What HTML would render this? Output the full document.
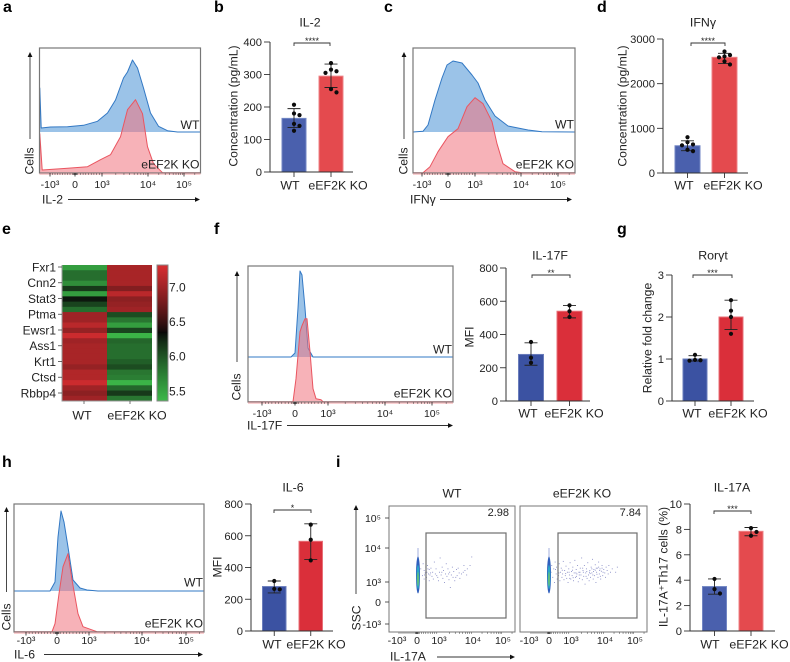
<!DOCTYPE html>
<html lang="en">
<head>
<meta charset="utf-8">
<title>eEF2K KO cytokine figure</title>
<style>
html,body{margin:0;padding:0;background:#fff;}
svg{display:block;font-family:"Liberation Sans",sans-serif;filter:blur(0.3px);}
</style>
</head>
<body>
<svg id="fig" width="790" height="662" viewBox="0 0 790 662">
  <g id="panel-a"></g>
  <g id="panel-b"></g>
  <g id="panel-c"></g>
  <g id="panel-d"></g>
  <g id="panel-e"></g>
  <g id="panel-f"></g>
  <g id="panel-f2"></g>
  <g id="panel-g"></g>
  <g id="panel-h"></g>
  <g id="panel-h2"></g>
  <g id="panel-i"></g>
  <g id="panel-i2"></g>
  <g id="letters">
    <text x="3" y="12" font-size="16" font-weight="bold">a</text>
    <text x="214" y="12" font-size="16" font-weight="bold">b</text>
    <text x="384" y="12" font-size="16" font-weight="bold">c</text>
    <text x="597" y="12" font-size="16" font-weight="bold">d</text>
    <text x="2" y="234" font-size="16" font-weight="bold">e</text>
    <text x="214" y="234" font-size="16" font-weight="bold">f</text>
    <text x="617" y="234" font-size="16" font-weight="bold">g</text>
    <text x="2" y="467" font-size="16" font-weight="bold">h</text>
    <text x="336" y="467" font-size="16" font-weight="bold">i</text>
  </g>
</svg>
<script>
/* ---------- shared categories and ticks ---------- */
const barCategories = ['WT', 'eEF2K KO'];
const flowTickValues = [-1000, 0, 1000, 10000, 100000];
const flowTickLabels = ['-10³', '0', '10³', '10⁴', '10⁵'];
const flowMinorValues = [-900,-800,-700,-600,-500,-400,-300,-200,-100,-60,-40,-20,-10,10,20,40,60,100,200,300,400,500,600,700,800,900,2000,3000,4000,5000,6000,7000,8000,9000,20000,30000,40000,50000,60000,70000,80000,90000,200000];

/* ---------- panel a: IL-2 histogram (channel, count) ---------- */
const aWtChannel = [0,0.3,1.7,11,28,44,58,68,76,84,88,93,98,104,111,119,128,138,161];
const aWtCount   = [0,44,4,5,5.3,6.7,10.7,19,32,54,60,72,64,44,19,5.7,1.3,0,0];
const aKoChannel = [0,0.3,2.7,28,48,61,71,81,88,96,103,108,114,123,161];
const aKoCount   = [0,39,2.7,4.5,6,13,18,36,63,73,59,26,9,0,0];

/* ---------- panel b: IL-2 bars ---------- */
const il2Ticks = [0,100,200,300,400];
const il2Means = [165,295];
const il2Low   = [137,260];
const il2High  = [195,332];
const il2WtPoints = [207,180,175,148,142,127];
const il2KoPoints = [335,315,310,305,255,245];

/* ---------- panel c: IFNg histogram ---------- */
const cWtChannel = [0,10,15,22,29,34,40,49,59,65,72,82,95,115,129,162];
const cWtCount   = [0,0.7,7,32,54,67,71,69,57,49,32,16,6,2,0.3,0];
const cKoChannel = [0,10,17,25,35,45,54,62,70,79,84,90,102,109,162];
const cKoCount   = [0,0,6,21,36,44,66,75,69,51,29,9,1,0,0];

/* ---------- panel d: IFNg bars ---------- */
const ifngTicks = [0,1000,2000,3000];
const ifngMeans = [610,2590];
const ifngLow   = [500,2450];
const ifngHigh  = [720,2680];
const ifngWtPoints = [800,690,640,620,520,490];
const ifngKoPoints = [2720,2640,2610,2590,2500,2430];

/* ---------- panel e: heatmap ---------- */
const heatGenes = ['Fxr1','Cnn2','Stat3','Ptma','Ewsr1','Ass1','Krt1','Ctsd','Rbbp4'];
const heatWt = [5.55,5.85,5.85,5.65,6.15,5.55,6.3,6.1,5.85,7.0,7.0,7.15,6.95,7.25,7.0,7.05,7.05,7.05,7.05,6.95,7.1,7.1,7.25,7.0,6.9,7.0];
const heatKo = [7.05,7.05,7.05,7.05,6.85,7.15,6.9,6.95,7.0,6.05,5.8,5.55,6.1,5.4,5.9,5.85,5.85,5.85,5.95,6.05,5.8,5.75,5.4,5.9,6.15,5.8];
const heatScaleTicks = [7.0,6.5,6.0,5.5];

/* ---------- panel f: IL-17F ---------- */
const fWtChannel = [0,43,47,50,52,54,57,60,65,205];
const fWtCount   = [0,0,4,49,86,82,49,9,0,0];
const fKoChannel = [0,45,48,52,54,57,59,62,65,68,73,75,205];
const fKoCount   = [0,0,23,70,76,83,83,50,13,3,2,0,0];
const il17fTicks = [0,200,400,600,800];
const il17fMeans = [280,540];
const il17fLow   = [215,500];
const il17fHigh  = [350,575];
const il17fWtPoints = [355,260,230];
const il17fKoPoints = [575,540,505];

/* ---------- panel g: Rorgt ---------- */
const rorTicks = [0,1,2,3];
const rorMeans = [1.0,2.0];
const rorLow   = [0.95,1.7];
const rorHigh  = [1.08,2.4];
const rorWtPoints = [1.1,0.98,0.97,0.96];
const rorKoPoints = [2.4,2.15,2.0,1.6];

/* ---------- panel h: IL-6 ---------- */
const hWtChannel = [0,36,41,44,47,50,54,59,66,73,84,190];
const hWtCount   = [0,0,9,54,80,69,44,11,3,1,0,0];
const hKoChannel = [0,38,41,45,49,54,58,64,69,83,190];
const hKoCount   = [0,0,8,38,65,78,52,18,5,0,0];
const il6Ticks = [0,200,400,600,800];
const il6Means = [280,565];
const il6Low   = [240,450];
const il6High  = [315,675];
const il6WtPoints = [315,265,262];
const il6KoPoints = [670,575,445];

/* ---------- panel i: IL-17A dot plots (log10 x, log10 y) ---------- */
const ssTickLabels = ['10⁵','10⁴','10³','0','-10³'];
const wtPercent = '2.98';
const koPercent = '7.84';
const wtDots = [[2.45,3.4],[2.5,3.2],[2.52,3.55],[2.55,3.1],[2.55,3.35],[2.58,3.28],[2.6,3.45],[2.62,3.15],[2.63,3.3],[2.65,3.5],[2.68,3.25],[2.7,3.05],[2.7,3.38],[2.72,3.22],[2.75,3.42],[2.78,3.18],[2.8,3.3],[2.82,3.1],[2.85,3.6],[2.88,3.25],[2.9,3.4],[2.95,3.15],[2.97,3.05],[3.0,3.3],[3.02,3.72],[3.05,3.22],[3.08,3.45],[3.1,3.12],[3.12,3.35],[3.15,3.0],[3.18,3.25],[3.2,3.55],[3.22,3.18],[3.25,3.4],[3.28,3.08],[3.3,3.3],[3.32,2.85],[3.35,3.22],[3.38,3.45],[3.4,3.15],[3.42,3.32],[3.45,3.05],[3.5,3.38],[3.52,3.2],[3.55,3.42],[3.58,3.28],[3.6,3.12],[3.65,3.25],[3.7,3.3],[3.72,3.5],[3.75,3.35],[3.8,3.22],[3.82,3.4],[3.9,3.5],[3.95,3.75],[2.56,3.22],[2.66,3.4],[2.74,3.28],[2.92,3.2],[3.07,3.3],[3.27,3.25],[3.48,3.15]];
const koDots = [[2.4,3.3],[2.42,3.5],[2.45,3.15],[2.48,3.4],[2.5,3.0],[2.52,3.6],[2.55,3.25],[2.56,3.45],[2.58,3.1],[2.6,3.35],[2.62,3.2],[2.64,3.55],[2.66,3.05],[2.68,3.3],[2.7,3.42],[2.72,3.15],[2.74,3.25],[2.76,3.62],[2.78,3.08],[2.8,3.35],[2.82,3.2],[2.84,3.48],[2.86,3.12],[2.88,3.3],[2.9,3.0],[2.92,3.4],[2.94,3.22],[2.96,3.58],[2.98,3.1],[3.0,3.32],[3.02,3.2],[3.04,3.45],[3.06,3.05],[3.08,3.28],[3.1,3.65],[3.12,3.15],[3.14,3.38],[3.16,3.25],[3.18,3.5],[3.2,3.02],[3.22,3.3],[3.24,3.12],[3.26,3.42],[3.28,3.22],[3.3,3.72],[3.32,3.08],[3.34,3.35],[3.36,3.18],[3.38,3.5],[3.4,2.95],[3.42,3.28],[3.44,3.4],[3.46,3.12],[3.48,3.58],[3.5,3.22],[3.52,3.05],[3.54,3.35],[3.56,3.15],[3.58,3.45],[3.6,3.28],[3.62,3.68],[3.64,3.1],[3.66,3.38],[3.68,3.2],[3.7,3.52],[3.72,3.0],[3.74,3.3],[3.76,3.42],[3.78,3.15],[3.8,3.6],[3.82,3.25],[3.84,3.4],[3.86,3.1],[3.88,3.33],[3.9,3.5],[3.92,3.2],[3.95,3.38],[3.98,3.28],[4.0,3.15],[4.02,3.45],[4.05,3.35],[4.08,3.25],[4.1,3.5],[4.15,3.3],[4.2,3.4],[4.3,3.3],[4.35,3.45],[3.03,3.36],[3.13,3.28],[3.23,3.22],[3.33,3.42],[3.43,3.18],[3.53,3.3],[3.63,3.22],[3.73,3.42],[3.83,3.35],[3.93,3.3],[2.93,3.3],[2.83,3.26],[2.73,3.36],[2.63,3.28],[2.53,3.38],[3.35,3.3],[3.45,3.32],[3.55,3.26],[3.65,3.32],[3.75,3.24],[3.85,3.18],[3.25,3.3],[3.15,3.18],[3.05,3.14],[2.95,3.12],[3.6,3.4],[3.7,3.36],[3.8,3.45],[3.9,3.42]];
const il17aTicks = [0,2,4,6,8,10];
const il17aMeans = [3.5,7.85];
const il17aLow   = [2.9,7.5];
const il17aHigh  = [4.1,8.15];
const il17aWtPoints = [4.1,3.3,2.95];
const il17aKoPoints = [8.1,7.8,7.5];

/* ---------- helpers ---------- */
const NS = 'http://www.w3.org/2000/svg';
const INK = '#222';
function mk(tag, attrs, parent) {
  const n = document.createElementNS(NS, tag);
  for (const k in attrs) n.setAttribute(k, attrs[k]);
  parent.appendChild(n);
  return n;
}
function txt(parent, x, y, str, size, anchor, rot) {
  const attrs = {x: x, y: y, dy: '.36em', 'font-size': size, 'text-anchor': anchor || 'middle', fill: INK};
  if (rot) attrs.transform = 'rotate(-90 ' + x + ' ' + y + ')';
  const n = mk('text', attrs, parent);
  n.textContent = str;
  return n;
}
function linear(d0, d1, r0, r1) {
  return function (v) { return r0 + (v - d0) * (r1 - r0) / (d1 - d0); };
}
/* flow-cytometry style axis: linear around zero, log above 10^3 */
function flowScale(px) {
  return function (v) {
    if (v <= -1000) return px[0];
    if (v < 0) return px[1] + (v / 1000) * (px[1] - px[0]);
    if (v < 1000) return px[1] + (v / 1000) * (px[2] - px[1]);
    if (v < 10000) return px[2] + (Math.log10(v) - 3) * (px[3] - px[2]);
    return px[3] + (Math.log10(v) - 4) * (px[4] - px[3]);
  };
}
function arrow(parent, x1, y1, x2, y2, name) {
  const g = mk('g', {}, parent);
  
  
  const dx = Math.sign(x2 - x1), dy = Math.sign(y2 - y1);
  mk('line', {x1: x1, y1: y1, x2: x2 - dx * 4, y2: y2 - dy * 4, stroke: '#333', 'stroke-width': 0.9}, g);
  const pts = dx
    ? [[x2, y2], [x2 - dx * 5, y2 - 2.4], [x2 - dx * 5, y2 + 2.4]]
    : [[x2, y2], [x2 - 2.4, y2 - dy * 5], [x2 + 2.4, y2 - dy * 5]];
  mk('polygon', {points: pts.map(function (p) { return p.join(','); }).join(' '), fill: '#111'}, g);
}
function histArea(parent, chan, count, x, y, fill, line, name) {
  const top = chan.map(function (c, i) { return x(c) + ',' + y(count[i]); });
  const area = mk('polygon', {points: x(chan[0]) + ',' + y(0) + ' ' + top.join(' ') + ' ' + x(chan[chan.length - 1]) + ',' + y(0), fill: fill, stroke: 'none'}, parent);
  
  
  const stroke = mk('polyline', {points: top.join(' '), fill: 'none', stroke: line, 'stroke-width': 1, 'stroke-linejoin': 'round'}, parent);
  
  
}
function histPanel(id, c) {
  const p = document.getElementById(id);
  const W = c.x1 - c.x0;
  const cx = linear(0, W, c.x0, c.x1);
  const wtY = linear(0, 100, c.wtBase, c.wtBase - 100);
  const koY = linear(0, 100, c.koBase, c.koBase - 100);
  histArea(p, c.wtC, c.wtV, cx, wtY, 'rgb(155,195,232)', '#3278c4', 'wt-histogram');
  histArea(p, c.koC, c.koV, cx, koY, 'rgba(240,115,125,.55)', '#ea5560', 'ko-histogram');
  const box = mk('rect', {x: c.x0, y: c.y0, width: W, height: c.y1 - c.y0, fill: 'none', stroke: '#777', 'stroke-width': 1.2}, p);
  
  
  const band = mk('line', {x1: c.x0, x2: c.x1, y1: c.y1 + 1, y2: c.y1 + 1, stroke: '#f6b4b8', 'stroke-width': 1.2}, p);
  
  
  const tx = flowScale(c.axis);
  flowMinorValues.forEach(function (v) {
    const t = mk('line', {x1: tx(v), x2: tx(v), y1: c.y1, y2: c.y1 + 2, stroke: '#444', 'stroke-width': 0.5}, p);
    
    
  });
  flowTickValues.forEach(function (v, i) {
    const t = mk('line', {x1: tx(v), x2: tx(v), y1: c.y1, y2: c.y1 + 3.5, stroke: '#222', 'stroke-width': 0.8}, p);
    
    
    const l = txt(p, tx(v), c.tickY, flowTickLabels[i], 10.5);
    
    
  });
  const wt = txt(p, c.x1 - 1, c.wtLabelY, 'WT', 12.2, 'end');
  
  
  const ko = txt(p, c.x1 - 1, c.koLabelY, 'eEF2K KO', 12.2, 'end');
  
  
  const xt = txt(p, c.xTitleX, c.xTitleY, c.xTitle, 12.2, 'start');
  
  
  arrow(p, c.arrowX0, c.xTitleY + 0.5, c.arrowX1, c.xTitleY + 0.5, 'x-axis-arrow');
  arrow(p, c.vArrowX, c.vArrowBottom, c.vArrowX, c.vArrowTop, 'y-axis-arrow');
  const yt = txt(p, c.cellsX, c.cellsY, 'Cells', 12.2, 'middle', true);
  
  
}
/* separate touching dots sideways, as a swarm plot does */
function swarm(values, yScale) {
  const placed = [];
  return values.map(function (v) {
    const py = yScale(v);
    const tries = [0, 5.5, -5.5, 9, -9];
    for (let k = 0; k < tries.length; k++) {
      const clash = placed.some(function (q) {
        return Math.hypot(q[0] - tries[k], q[1] - py) < 4.6;
      });
      if (!clash) { placed.push([tries[k], py]); return placed[placed.length - 1]; }
    }
    placed.push([0, py]);
    return placed[placed.length - 1];
  });
}
function barPanel(id, c) {
  const p = document.getElementById(id);
  const y = linear(c.ticks[0], c.ticks[c.ticks.length - 1], c.yBottom, c.yTop);
  const groups = [c.wtPoints, c.koPoints];
  const fills = c.colors;
  const lights = c.lights;
  c.means.forEach(function (m, i) {
    const b = c.barX[i];
    const bar = mk('rect', {x: b, y: y(m), width: c.barW, height: c.yBottom - y(m), fill: fills[i], stroke: lights[i], 'stroke-width': 1}, p);
    
    
    const mid = b + c.barW / 2;
    const err = mk('path', {d: 'M' + mid + ' ' + y(c.low[i]) + 'V' + y(c.high[i]) + 'M' + (mid - 6.5) + ' ' + y(c.low[i]) + 'h13M' + (mid - 6.5) + ' ' + y(c.high[i]) + 'h13', stroke: '#222', 'stroke-width': 0.9, fill: 'none'}, p);
    
    
    swarm(groups[i], y).forEach(function (pt) {
      const d = mk('circle', {cx: mid + pt[0], cy: pt[1], r: 2.1, fill: '#0c0c0c'}, p);
      
      
    });
    const tk = mk('line', {x1: mid, x2: mid, y1: c.yBottom, y2: c.yBottom + 5, stroke: '#333', 'stroke-width': 0.9}, p);
    
    
    const lab = txt(p, c.labelX[i], c.labelY, barCategories[i], 12.4);
    
    
  });
  const axis = mk('path', {d: 'M' + c.axisX + ' ' + c.yTop + 'V' + c.yBottom + 'H' + c.axisEnd, stroke: '#333', 'stroke-width': 1, fill: 'none'}, p);
  
  
  c.ticks.forEach(function (v) {
    const t = mk('line', {x1: c.axisX - 6, x2: c.axisX, y1: y(v), y2: y(v), stroke: '#333', 'stroke-width': 0.9}, p);
    
    
    const l = txt(p, c.axisX - 8, y(v), String(v), 11.2, 'end');
    
    
  });
  const title = txt(p, c.titleX, c.titleY, c.title, 12.4);
  
  
  const yt = txt(p, c.yTitleX, c.yTitleY, c.yTitle, 12.2, 'middle', true);
  
  
  const br = mk('path', {d: 'M' + c.brX0 + ' ' + (c.brY + 3) + 'V' + c.brY + 'H' + c.brX1 + 'V' + (c.brY + 3), stroke: '#333', 'stroke-width': 0.9, fill: 'none'}, p);
  
  
  const st = txt(p, (c.brX0 + c.brX1) / 2, c.brY - 2, c.stars, 9);
  
  
}

/* ---------- colour map for panel e ---------- */
function heatColor(v) {
  const mid = 6.35, lo = 5.35, hi = 7.3;
  const green = [61,186,74], black = [8,8,8], red = [212,45,48];
  let t, a, b;
  if (v < mid) { t = Math.max(0, (mid - v) / (mid - lo)); a = black; b = green; }
  else { t = Math.min(1, (v - mid) / (hi - mid)); a = black; b = red; }
  const e = Math.pow(t, 0.8);
  return 'rgb(' + a.map(function (k, i) { return Math.round(k + (b[i] - k) * e); }).join(',') + ')';
}

/* ---------- draw panels ---------- */
histPanel('panel-a', {x0: 39.5, x1: 200.5, y0: 48, y1: 173, wtBase: 132, koBase: 172.7,
  wtC: aWtChannel, wtV: aWtCount, koC: aKoChannel, koV: aKoCount,
  axis: [50,75,102,148,184], tickY: 184, wtLabelY: 124.5, koLabelY: 164,
  xTitle: 'IL-2', xTitleX: 42, xTitleY: 199, arrowX0: 68, arrowX1: 200,
  vArrowX: 30, vArrowBottom: 139, vArrowTop: 52, cellsX: 29, cellsY: 161});
barPanel('panel-b', {ticks: il2Ticks, yTop: 42, yBottom: 172, axisX: 270, axisEnd: 353,
  means: il2Means, low: il2Low, high: il2High, wtPoints: il2WtPoints, koPoints: il2KoPoints,
  barX: [282,319], barW: 24, colors: ['#4a60ad','#e44a4e'], lights: ['#7286c4','#ee8387'],
  labelX: [290,338], labelY: 185, title: 'IL-2', titleX: 310, titleY: 22,
  yTitle: 'Concentration (pg/mL)', yTitleX: 233, yTitleY: 106,
  brX0: 294, brX1: 330, brY: 43, stars: '****'});
histPanel('panel-c', {x0: 413, x1: 575, y0: 48, y1: 173, wtBase: 132, koBase: 172.7,
  wtC: cWtChannel, wtV: cWtCount, koC: cKoChannel, koV: cKoCount,
  axis: [422,448,475,521,558], tickY: 184, wtLabelY: 124, koLabelY: 164,
  xTitle: 'IFNγ', xTitleX: 410, xTitleY: 199, arrowX0: 440, arrowX1: 572,
  vArrowX: 404, vArrowBottom: 139, vArrowTop: 52, cellsX: 403, cellsY: 161});
barPanel('panel-d', {ticks: ifngTicks, yTop: 39, yBottom: 173, axisX: 663, axisEnd: 748,
  means: ifngMeans, low: ifngLow, high: ifngHigh, wtPoints: ifngWtPoints, koPoints: ifngKoPoints,
  barX: [675,712], barW: 25, colors: ['#4a60ad','#e44a4e'], lights: ['#7286c4','#ee8387'],
  labelX: [684,733], labelY: 185, title: 'IFNγ', titleX: 703, titleY: 22,
  yTitle: 'Concentration (pg/mL)', yTitleX: 622, yTitleY: 106,
  brX0: 691, brX1: 725, brY: 43, stars: '****'});

(function () {
  const p = document.getElementById('panel-e');
  const left = 62, mid = 107, right = 152, top = 265, bottom = 401;
  const rowH = (bottom - top) / heatWt.length;
  heatWt.forEach(function (v, i) {
    const a = mk('rect', {x: left, y: top + i * rowH, width: mid - left, height: rowH + 0.4, fill: heatColor(v)}, p);
    
    
    const b = mk('rect', {x: mid, y: top + i * rowH, width: right - mid, height: rowH + 0.4, fill: heatColor(heatKo[i])}, p);
    
    
  });
  const frame = mk('path', {d: 'M' + left + ' ' + top + 'V' + bottom + 'H' + right, fill: 'none', stroke: '#999', 'stroke-width': 1}, p);
  
  
  heatGenes.forEach(function (g, i) {
    const gy = 267 + i * 15.75;
    const t = mk('line', {x1: 58, x2: 62, y1: gy, y2: gy, stroke: '#444', 'stroke-width': 0.8}, p);
    
    
    const l = txt(p, 56, gy, g, 12, 'end');
    
    
  });
  barCategories.forEach(function (c, i) {
    const cx = [84,130][i];
    const t = mk('line', {x1: cx, x2: cx, y1: bottom, y2: bottom + 3, stroke: '#555', 'stroke-width': 0.8}, p);
    
    
    const l = txt(p, [82,137][i], 415, c, 12.4);
    
    
  });
  const legendX = 157, legendW = 11;
  const legendY = linear(7.0, 5.5, 287, 391);
  for (let py = top; py < bottom; py++) {
    const seg = mk('rect', {x: legendX, y: py, width: legendW, height: 1.2, fill: heatColor(7.0 + (py - 287) * (5.5 - 7.0) / (391 - 287))}, p);
    
    
  }
  const lb = mk('rect', {x: legendX, y: top, width: legendW, height: bottom - top, fill: 'none', stroke: '#888', 'stroke-width': 1}, p);
  
  
  heatScaleTicks.forEach(function (v) {
    const l = txt(p, 169, legendY(v), v.toFixed(1), 12, 'start');
    
    
  });
})();

histPanel('panel-f', {x0: 248, x1: 453, y0: 266, y1: 402, wtBase: 357, koBase: 401.7,
  wtC: fWtChannel, wtV: fWtCount, koC: fKoChannel, koV: fKoCount,
  axis: [262,295,328,385,432], tickY: 413, wtLabelY: 349, koLabelY: 393,
  xTitle: 'IL-17F', xTitleX: 247, xTitleY: 425, arrowX0: 287, arrowX1: 453,
  vArrowX: 237, vArrowBottom: 362, vArrowTop: 271, cellsX: 236, cellsY: 387});
barPanel('panel-f2', {ticks: il17fTicks, yTop: 268, yBottom: 401, axisX: 506, axisEnd: 590,
  means: il17fMeans, low: il17fLow, high: il17fHigh, wtPoints: il17fWtPoints, koPoints: il17fKoPoints,
  barX: [518.5,557], barW: 25, colors: ['#3b52a2','#da2f3a'], lights: ['#6a7dbc','#e87078'],
  labelX: [528,574], labelY: 413, title: 'IL-17F', titleX: 550, titleY: 255,
  yTitle: 'MFI', yTitleX: 469, yTitleY: 337,
  brX0: 532, brX1: 570, brY: 275, stars: '**'});
barPanel('panel-g', {ticks: rorTicks, yTop: 275, yBottom: 401, axisX: 672, axisEnd: 754,
  means: rorMeans, low: rorLow, high: rorHigh, wtPoints: rorWtPoints, koPoints: rorKoPoints,
  barX: [683,719], barW: 24, colors: ['#3b52a2','#da2f3a'], lights: ['#6a7dbc','#e87078'],
  labelX: [692,738], labelY: 413, title: 'Rorγt', titleX: 713, titleY: 255,
  yTitle: 'Relative fold change', yTitleX: 647, yTitleY: 338,
  brX0: 693, brX1: 732, brY: 275, stars: '***'});
histPanel('panel-h', {x0: 14, x1: 204, y0: 504, y1: 632, wtBase: 591, koBase: 631.7,
  wtC: hWtChannel, wtV: hWtCount, koC: hKoChannel, koV: hKoCount,
  axis: [26,57,89,142,186], tickY: 640, wtLabelY: 582, koLabelY: 623,
  xTitle: 'IL-6', xTitleX: 14, xTitleY: 654, arrowX0: 44, arrowX1: 203,
  vArrowX: 6.5, vArrowBottom: 592, vArrowTop: 507, cellsX: 6, cellsY: 617});
barPanel('panel-h2', {ticks: il6Ticks, yTop: 504, yBottom: 631, axisX: 251, axisEnd: 333,
  means: il6Means, low: il6Low, high: il6High, wtPoints: il6WtPoints, koPoints: il6KoPoints,
  barX: [262.5,299], barW: 23.5, colors: ['#3b52a2','#da2f3a'], lights: ['#6a7dbc','#e87078'],
  labelX: [272,316], labelY: 644, title: 'IL-6', titleX: 293, titleY: 487,
  yTitle: 'MFI', yTitleX: 217, yTitleY: 567,
  brX0: 274, brX1: 311, brY: 510, stars: '*'});

(function () {
  const p = document.getElementById('panel-i');
  const y = linear(3, 4, 582, 548);
  const plots = [
    {x0: 389, x1: 515, gate0: 426, gate1: 506, dots: wtDots, title: 'WT', tx: 452, pct: wtPercent, pctX: 509, blob: 418, shift: 0},
    {x0: 520, x1: 647, gate0: 558, gate1: 637, dots: koDots, title: 'eEF2K KO', tx: 582, pct: koPercent, pctX: 641, blob: 549, shift: 132}
  ];
  plots.forEach(function (c) {
    const x = linear(3, 4, 439 + c.shift, 473 + c.shift);
    const frame = mk('rect', {x: c.x0, y: 506, width: c.x1 - c.x0, height: 126, fill: 'none', stroke: '#777', 'stroke-width': 1}, p);
    
    
    c.dots.forEach(function (d) {
      const dot = mk('rect', {x: x(d[0]), y: y(d[1]), width: 0.9, height: 0.9, fill: '#5a5fb0', opacity: 0.75}, p);
      
      
    });
    const tail = mk('line', {x1: c.blob, x2: c.blob, y1: 548, y2: 560, stroke: '#8c9bd6', 'stroke-width': 0.8}, p);
    
    
    const outer = mk('ellipse', {cx: c.blob, cy: 575, rx: 2, ry: 18.5, fill: '#2f5fbd'}, p);
    
    
    const midE = mk('ellipse', {cx: c.blob, cy: 577, rx: 1.4, ry: 12, fill: '#29a8c8'}, p);
    
    
    const inner = mk('ellipse', {cx: c.blob, cy: 579, rx: 0.8, ry: 7, fill: '#6cc46a'}, p);
    
    
    const gate = mk('rect', {x: c.gate0, y: 533, width: c.gate1 - c.gate0, height: 85, fill: 'none', stroke: '#6e6e6e', 'stroke-width': 1.2}, p);
    
    
    const pct = txt(p, c.pctX, 512, c.pct, 11, 'end');
    
    
    const title = txt(p, c.tx, 493, c.title, 12.2);
    
    
    const tx = flowScale([397 + c.shift, 417 + c.shift, 439 + c.shift, 473 + c.shift, 503 + c.shift]);
    flowMinorValues.forEach(function (v) {
      const t = mk('line', {x1: tx(v), x2: tx(v), y1: 632, y2: 634, stroke: '#444', 'stroke-width': 0.5}, p);
      
      
    });
    flowTickValues.forEach(function (v, i) {
      const l = txt(p, tx(v), 640, flowTickLabels[i], 10.5);
      
      
    });
  });
  const ssAxis = [-1000, 0, 1000, 10000, 100000];
  const ssY = flowScale([624, 602, 582, 548, 518]);
  ssTickLabels.forEach(function (lab, i) {
    const v = ssAxis[ssAxis.length - 1 - i];
    const t = mk('line', {x1: 385, x2: 389, y1: ssY(v), y2: ssY(v), stroke: '#333', 'stroke-width': 0.8}, p);
    
    
    const l = txt(p, 381, ssY(v), lab, 10.5, 'end');
    
    
  });
  const ssc = txt(p, 356, 618, 'SSC', 12.2, 'middle', true);
  
  
  arrow(p, 356, 594, 356, 505, 'y-axis-arrow');
  const il = txt(p, 390, 656, 'IL-17A', 12.2, 'start');
  
  
  arrow(p, 437, 657, 515, 657, 'x-axis-arrow');
})();

barPanel('panel-i2', {ticks: il17aTicks, yTop: 504, yBottom: 631, axisX: 690, axisEnd: 775,
  means: il17aMeans, low: il17aLow, high: il17aHigh, wtPoints: il17aWtPoints, koPoints: il17aKoPoints,
  barX: [702.5,739], barW: 24, colors: ['#4a60ad','#e44a4e'], lights: ['#7286c4','#ee8387'],
  labelX: [710,759], labelY: 644, title: 'IL-17A', titleX: 732, titleY: 487,
  yTitle: 'IL-17A⁺Th17 cells (%)', yTitleX: 663, yTitleY: 567,
  brX0: 714, brX1: 751, brY: 511, stars: '***'});
</script>
</body>
</html>
